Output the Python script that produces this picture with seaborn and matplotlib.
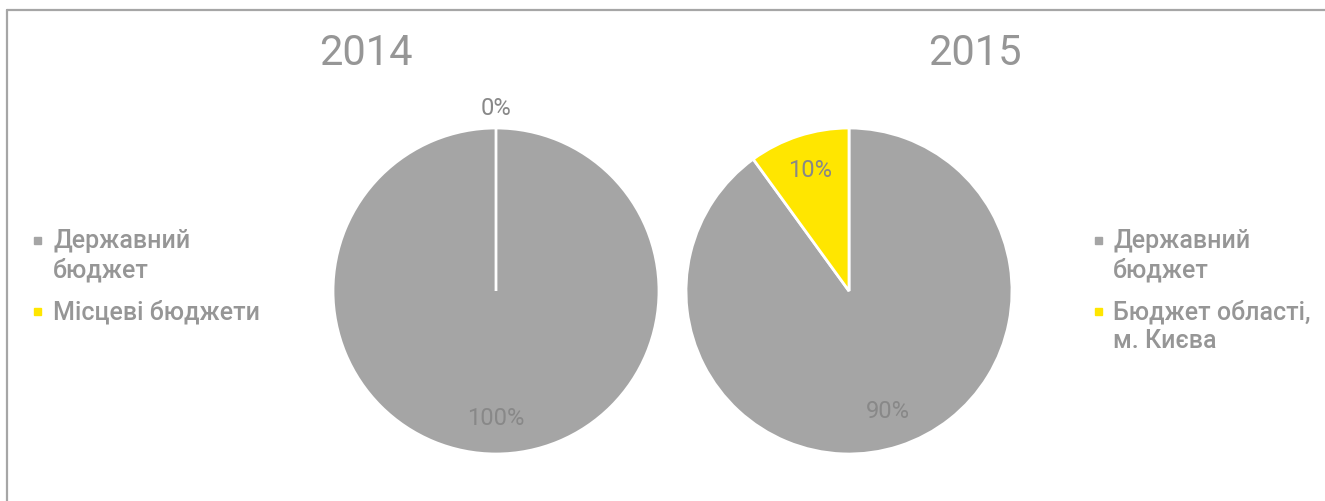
#!/usr/bin/env python3
# Two pie charts: budget shares 2014 vs 2015

import matplotlib.pyplot as plt
import seaborn as sns
from matplotlib.lines import Line2D
from matplotlib.patches import Rectangle

# -------------------------------------------------------------------
# DATA
# -------------------------------------------------------------------

years = ["2014", "2015"]
labels_2014 = ["Державний\nбюджет", "Місцеві бюджети"]
labels_2015 = ["Державний\nбюджет", "Бюджет області,\nм. Києва"]
shares_2014 = [100, 0]
shares_2015 = [90, 10]
colors = ["#A5A5A5", "#FFE600"]

# -------------------------------------------------------------------
# LAYOUT HELPERS (pixel coords of a 1325x501 canvas, origin top-left)
# -------------------------------------------------------------------

W, H = 1325, 501
TEXT_GRAY = "#969696"
LABEL_GRAY = "#888888"


def fx(x):
    return x / W


def fy(y):
    return 1 - y / H


def draw_pie(fig, cx, cy, r, values):
    """Pie centred at pixel (cx, cy) with radius r, Excel-like ordering."""
    ax = fig.add_axes([fx(cx - r), fy(cy + r), 2 * r / W, 2 * r / H])
    wedges, _, autotexts = ax.pie(
        values,
        colors=colors,
        startangle=90,
        counterclock=False,
        autopct=lambda p: f"{p:.0f}%",
        pctdistance=0.78,
        wedgeprops=dict(edgecolor="white", linewidth=2),
        textprops=dict(color=LABEL_GRAY, fontsize=17),
    )
    ax.set_xlim(-1, 1)
    ax.set_ylim(-1, 1)
    # zero-size slices get their label pushed outside the pie
    for v, t in zip(values, autotexts):
        if v == 0:
            x, y = t.get_position()
            t.set_position((x / 0.78 * 1.12, y / 0.78 * 1.12))
    return wedges


def draw_legend(fig, x_mark, x_text, baselines, labels):
    """Square marker + multi-line label, one line at a time."""
    for base, label, color in zip(baselines, labels, colors):
        fig.add_artist(Rectangle((fx(x_mark - 3.5), fy(base - 4.5)),
                                 7 / W, 7 / H, color=color,
                                 transform=fig.transFigure))
        for i, line in enumerate(label.split("\n")):
            fig.text(fx(x_text), fy(base + 29 * i), line, fontsize=18,
                     fontweight="medium", color=TEXT_GRAY,
                     va="baseline", ha="left")


# -------------------------------------------------------------------
# PLOT
# -------------------------------------------------------------------

sns.set_theme(style="white")
plt.rcParams["font.family"] = ["Roboto", "DejaVu Sans"]

fig = plt.figure(figsize=(W / 100, H / 100), dpi=100)

# chart frame (top and left edges only are visible)
fig.add_artist(Line2D([fx(7), 1], [fy(9.5), fy(9.5)], color="#A6A6A6",
                      linewidth=1.6, transform=fig.transFigure))
fig.add_artist(Line2D([fx(7), fx(7)], [fy(9.5), 0], color="#A6A6A6",
                      linewidth=1.6, transform=fig.transFigure))

# titles
fig.text(fx(366), fy(65), years[0], fontsize=30, color=TEXT_GRAY,
         ha="center", va="baseline")
fig.text(fx(975), fy(65), years[1], fontsize=30, color=TEXT_GRAY,
         ha="center", va="baseline")

draw_pie(fig, 496, 291, 163, shares_2014)
draw_pie(fig, 849, 291, 163, shares_2015)

draw_legend(fig, 37, 53, [248, 319], labels_2014)
draw_legend(fig, 1098, 1113, [248, 319], labels_2015)

fig.savefig("out.png", dpi=100, facecolor="white")
